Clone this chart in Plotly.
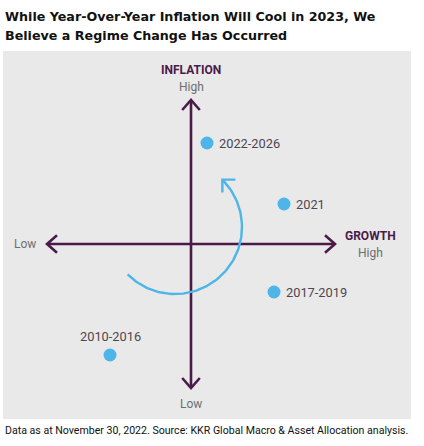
import numpy as np
import plotly.graph_objects as go

# ---- data (abstract growth / inflation positions) ----
periods = ["2022-2026", "2021", "2017-2019", "2010-2016"]
growth = [1.6, 9.3, 8.3, -8.1]
inflation = [10.1, 4.0, -4.8, -11.1]

axis_extent = 14.4          # half-length of the axes arrows
arc_center = (-1.6, 1.7)    # regime-change arc
arc_radius = 6.7
arc_start_deg, arc_end_deg = 225, 405

title_lines = ["While Year-Over-Year Inflation Will Cool in 2023, We",
               "Believe a Regime Change Has Occurred"]
footer = "Data as at November 30, 2022. Source: KKR Global Macro & Asset Allocation analysis."

PURPLE = "#4a1a48"
BLUE = "#4db5e8"
GRAY = "#6e6e6e"
LABEL = "#4e4650"
FONT = "Roboto"

fig = go.Figure()

E = axis_extent
# axes lines
fig.add_trace(go.Scatter(x=[-E, E], y=[0, 0], mode="lines",
                         line=dict(color=PURPLE, width=2.6), hoverinfo="skip"))
fig.add_trace(go.Scatter(x=[0, 0], y=[-E, E], mode="lines",
                         line=dict(color=PURPLE, width=2.6), hoverinfo="skip"))
# chevron heads
w, b = 0.88, 1.0
for xs, ys in [
    ([E - b, E, E - b], [w, 0, -w]),
    ([-E + b, -E, -E + b], [w, 0, -w]),
    ([-w, 0, w], [E - b, E, E - b]),
    ([-w, 0, w], [-E + b, -E, -E + b]),
]:
    fig.add_trace(go.Scatter(x=xs, y=ys, mode="lines",
                             line=dict(color=PURPLE, width=2.6), hoverinfo="skip"))

# arc
th = np.radians(np.linspace(arc_start_deg, arc_end_deg, 120))
ax = arc_center[0] + arc_radius * np.cos(th)
ay = arc_center[1] + arc_radius * np.sin(th)
fig.add_trace(go.Scatter(x=ax, y=ay, mode="lines",
                         line=dict(color=BLUE, width=2.4), hoverinfo="skip"))
tipx, tipy = ax[-1], ay[-1]
hl = 1.3
fig.add_trace(go.Scatter(x=[tipx, tipx, tipx + hl], y=[tipy - hl, tipy, tipy],
                         mode="lines", line=dict(color=BLUE, width=2.4),
                         hoverinfo="skip"))

# points
fig.add_trace(go.Scatter(x=growth, y=inflation, mode="markers",
                         marker=dict(color=BLUE, size=13), hoverinfo="skip"))

for p, gx, iy in zip(periods, growth, inflation):
    if p == "2010-2016":
        fig.add_annotation(x=gx, y=iy, text=p, showarrow=False, yshift=19,
                           font=dict(family=FONT, size=12.8, color=LABEL))
    else:
        fig.add_annotation(x=gx, y=iy, text=p, showarrow=False, xanchor="left",
                           xshift=10, font=dict(family=FONT, size=12.8, color=LABEL))

# axis labels
fig.add_annotation(x=0, y=E, text="<b>INFLATION</b>", showarrow=False, yshift=30,
                   font=dict(family=FONT, size=12, color=PURPLE))
fig.add_annotation(x=0, y=E, text="High", showarrow=False, yshift=13,
                   font=dict(family=FONT, size=12, color=GRAY))
fig.add_annotation(x=0, y=-E, text="Low", showarrow=False, yshift=-16,
                   font=dict(family=FONT, size=12, color=GRAY))
fig.add_annotation(x=-E, y=0, text="Low", showarrow=False, xshift=-22,
                   font=dict(family=FONT, size=12, color=GRAY))
fig.add_annotation(x=E, y=0, text="<b>GROWTH</b>", showarrow=False,
                   xshift=35, yshift=8,
                   font=dict(family=FONT, size=12, color=PURPLE))
fig.add_annotation(x=E, y=0, text="High", showarrow=False,
                   xshift=35, yshift=-9,
                   font=dict(family=FONT, size=12, color=GRAY))

# title & footer
for i, line in enumerate(title_lines):
    fig.add_annotation(xref="paper", yref="paper", x=0, y=1.0, yshift=35 - 19 * i,
                       xanchor="left", yanchor="middle", align="left",
                       text="<b>" + line + "</b>", showarrow=False,
                       font=dict(family="DejaVu Sans", size=12.7, color="#111111"))
fig.add_annotation(xref="paper", yref="paper", x=0, y=0, yshift=-3,
                   xanchor="left", yanchor="top", align="left",
                   text=footer, showarrow=False,
                   font=dict(family=FONT, size=10.6, color="#111111"))

fig.update_layout(
    width=424, height=446,
    margin=dict(l=3, r=13, t=51, b=27, autoexpand=False),
    paper_bgcolor="white", plot_bgcolor="#e9e9e9",
    showlegend=False,
    xaxis=dict(range=[-18.8, 22.0], visible=False, fixedrange=True),
    yaxis=dict(range=[-17.5, 19.3], visible=False, fixedrange=True),
)

fig.write_html("out.html", config={"displayModeBar": False},
               post_script="document.body.style.margin='0px';")
